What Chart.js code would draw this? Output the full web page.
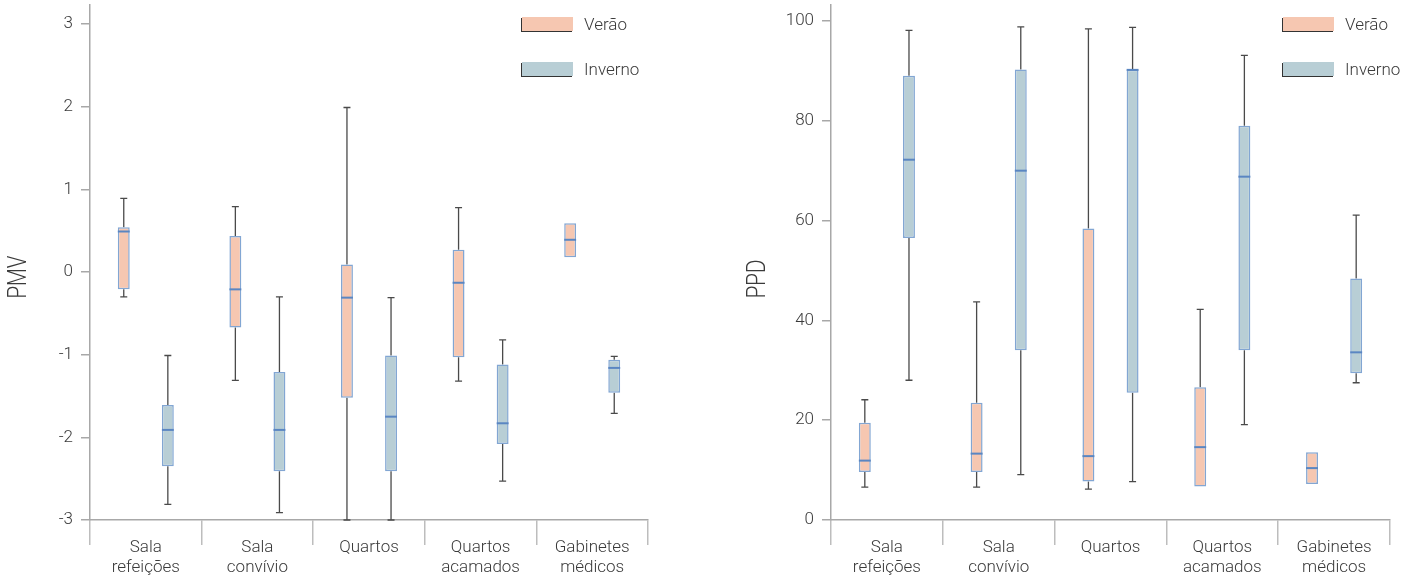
<!DOCTYPE html>
<html>
<head>
<meta charset="utf-8">
<script src="https://cdn.jsdelivr.net/npm/chart.js@4.4.1/dist/chart.umd.min.js"></script>
<style>
  body { margin: 0; background: #fff; }
  .pane { position: absolute; top: 0; }
</style>
</head>
<body>
<div class="pane" style="left:0"><canvas id="pmvChart" width="700" height="580"></canvas></div>
<div class="pane" style="left:700px"><canvas id="ppdChart" width="713" height="580"></canvas></div>
<script>
// categorias
const categories = [['Sala', 'refeições'], ['Sala', 'convívio'], 'Quartos', ['Quartos', 'acamados'], ['Gabinetes', 'médicos']];
const seasons = ['Verão', 'Inverno'];

// PMV - Verão
const pmvVeraoMin = [-0.30, -1.31, -3.00, -1.32, 0.18];
const pmvVeraoQ1 = [-0.21, -0.67, -1.52, -1.03, 0.18];
const pmvVeraoMed = [0.49, -0.21, -0.31, -0.13, 0.39];
const pmvVeraoQ3 = [0.54, 0.435, 0.09, 0.27, 0.59];
const pmvVeraoMax = [0.89, 0.79, 1.99, 0.78, 0.59];
// PMV - Inverno
const pmvInvernoMin = [-2.81, -2.91, -3.00, -2.53, -1.71];
const pmvInvernoQ1 = [-2.35, -2.41, -2.41, -2.08, -1.46];
const pmvInvernoMed = [-1.91, -1.91, -1.75, -1.83, -1.16];
const pmvInvernoQ3 = [-1.61, -1.21, -1.01, -1.12, -1.06];
const pmvInvernoMax = [-1.01, -0.30, -0.31, -0.82, -1.02];

// PPD - Verão
const ppdVeraoMin = [6.6, 6.6, 6.2, 6.7, 7.2];
const ppdVeraoQ1 = [9.6, 9.6, 7.7, 6.7, 7.2];
const ppdVeraoMed = [11.9, 13.3, 12.8, 14.6, 10.4];
const ppdVeraoQ3 = [19.5, 23.5, 58.4, 26.6, 13.6];
const ppdVeraoMax = [24.1, 43.7, 98.4, 42.2, 13.6];
// PPD - Inverno
const ppdInvernoMin = [28.0, 9.1, 7.7, 19.1, 27.5];
const ppdInvernoQ1 = [56.5, 34.0, 25.5, 34.0, 29.4];
const ppdInvernoMed = [72.2, 70.0, 90.2, 68.8, 33.6];
const ppdInvernoQ3 = [89.0, 90.3, 90.2, 79.0, 48.4];
const ppdInvernoMax = [98.1, 98.8, 98.7, 93.1, 61.1];

// rótulos dos eixos
const pmvTicks = [-3, -2, -1, 0, 1, 2, 3];
const ppdTicks = [0, 20, 40, 60, 80, 100];

const FONT = 'Roboto';
const TEXT = '#3a3a3a';
const AXIS = '#a8a8a8';
const fills = ['#f6c7b1', '#b8ced5'];

// bigodes (antes das caixas) e medianas (depois)
const boxPlugin = {
    id: 'boxWhiskers',
    beforeDatasetsDraw(chart) {
        const ctx = chart.ctx, y = chart.scales.y;
        ctx.save();
        ctx.strokeStyle = '#4a4a4a';
        ctx.lineWidth = 1.3;
        chart.data.datasets.forEach((ds, i) => {
            chart.getDatasetMeta(i).data.forEach((bar, j) => {
                const x = bar.x, cap = 3.5;
                const pairs = [[ds.whiskerMax[j], ds.data[j][1]], [ds.whiskerMin[j], ds.data[j][0]]];
                pairs.forEach(([end, edge]) => {
                    if (end === edge) return;
                    const ye = y.getPixelForValue(end), yb = y.getPixelForValue(edge);
                    ctx.beginPath();
                    ctx.moveTo(x, yb); ctx.lineTo(x, ye);
                    ctx.moveTo(x - cap, ye); ctx.lineTo(x + cap, ye);
                    ctx.stroke();
                });
            });
        });
        ctx.restore();
    },
    afterDatasetsDraw(chart) {
        const ctx = chart.ctx, y = chart.scales.y;
        ctx.save();
        ctx.strokeStyle = '#5a86c2';
        ctx.lineWidth = 2;
        chart.data.datasets.forEach((ds, i) => {
            chart.getDatasetMeta(i).data.forEach((bar, j) => {
                const ym = y.getPixelForValue(ds.median[j]);
                ctx.beginPath();
                ctx.moveTo(bar.x - bar.width / 2, ym);
                ctx.lineTo(bar.x + bar.width / 2, ym);
                ctx.stroke();
            });
        });
        ctx.restore();
    }
};

// legenda e título do eixo y
const extrasPlugin = {
    id: 'extras',
    afterDraw(chart, args, opts) {
        const ctx = chart.ctx;
        ctx.save();
        ctx.font = '300 17px ' + FONT;
        ctx.textBaseline = 'middle';
        chart.data.datasets.forEach((ds, i) => {
            const top = opts.legendY + i * 45;
            ctx.fillStyle = '#333';
            ctx.fillRect(opts.legendX - 1, top, 51, 14);
            ctx.fillStyle = ds.backgroundColor;
            ctx.fillRect(opts.legendX, top - 1, 51, 14);
            ctx.fillStyle = TEXT;
            ctx.fillText(ds.label, opts.legendX + 62, top + 8);
        });
        ctx.translate(opts.titleX, opts.titleY);
        ctx.rotate(-Math.PI / 2);
        ctx.scale(0.82, 1);
        ctx.textAlign = 'center';
        ctx.font = '300 25px ' + FONT;
        ctx.fillText(opts.title, 0, 0);
        ctx.restore();
    }
};

function makeDataset(label, color, q1, q3, med, min, max) {
    return {
        label: label,
        data: q1.map((v, i) => [v, q3[i]]),
        median: med,
        whiskerMin: min,
        whiskerMax: max,
        backgroundColor: color,
        borderColor: '#82a6d3',
        borderWidth: 1.5,
        borderSkipped: false,
        categoryPercentage: 0.79,
        barPercentage: 0.27
    };
}

function makeChart(id, datasets, yMin, yMax, ticks, axisWidth, padRight, extras) {
    return new Chart(document.getElementById(id), {
        type: 'bar',
        data: { labels: categories, datasets: datasets },
        plugins: [boxPlugin, extrasPlugin],
        options: {
            responsive: false,
            animation: false,
            layout: { padding: { top: 5, right: padRight, left: 0, bottom: 0 } },
            plugins: { legend: { display: false }, tooltip: { enabled: false }, extras: extras },
            scales: {
                x: {
                    afterFit: s => { s.height = 60; },
                    grid: { offset: true, drawOnChartArea: false, tickLength: 25, color: '#bdbdbd', lineWidth: 1.5 },
                    border: { color: AXIS, width: 1.5 },
                    ticks: { padding: -7, color: TEXT, font: { family: FONT, size: 17, weight: 300, lineHeight: 1.18 }, maxRotation: 0 }
                },
                y: {
                    min: yMin,
                    max: yMax,
                    afterFit: s => { s.width = axisWidth; s.paddingTop = 0; s.paddingBottom = 0; },
                    afterBuildTicks: s => { s.ticks = ticks.map(v => ({ value: v })); },
                    grid: { drawOnChartArea: false, tickLength: 9, color: AXIS, lineWidth: 1.5 },
                    border: { color: AXIS, width: 1.5 },
                    ticks: { padding: 8, color: TEXT, font: { family: FONT, size: 17, weight: 300 } }
                }
            }
        }
    });
}

makeChart('pmvChart', [
    makeDataset(seasons[0], fills[0], pmvVeraoQ1, pmvVeraoQ3, pmvVeraoMed, pmvVeraoMin, pmvVeraoMax),
    makeDataset(seasons[1], fills[1], pmvInvernoQ1, pmvInvernoQ3, pmvInvernoMed, pmvInvernoMin, pmvInvernoMax)
], -3, 3.23, pmvTicks, 90, 52, { legendX: 522, legendY: 18, title: 'PMV', titleX: 20, titleY: 277 });

makeChart('ppdChart', [
    makeDataset(seasons[0], fills[0], ppdVeraoQ1, ppdVeraoQ3, ppdVeraoMed, ppdVeraoMin, ppdVeraoMax),
    makeDataset(seasons[1], fills[1], ppdInvernoQ1, ppdInvernoQ3, ppdInvernoMed, ppdInvernoMin, ppdInvernoMax)
], 0, 103.2, ppdTicks, 131, 23, { legendX: 583, legendY: 18, title: 'PPD', titleX: 59, titleY: 279 });
</script>
</body>
</html>
